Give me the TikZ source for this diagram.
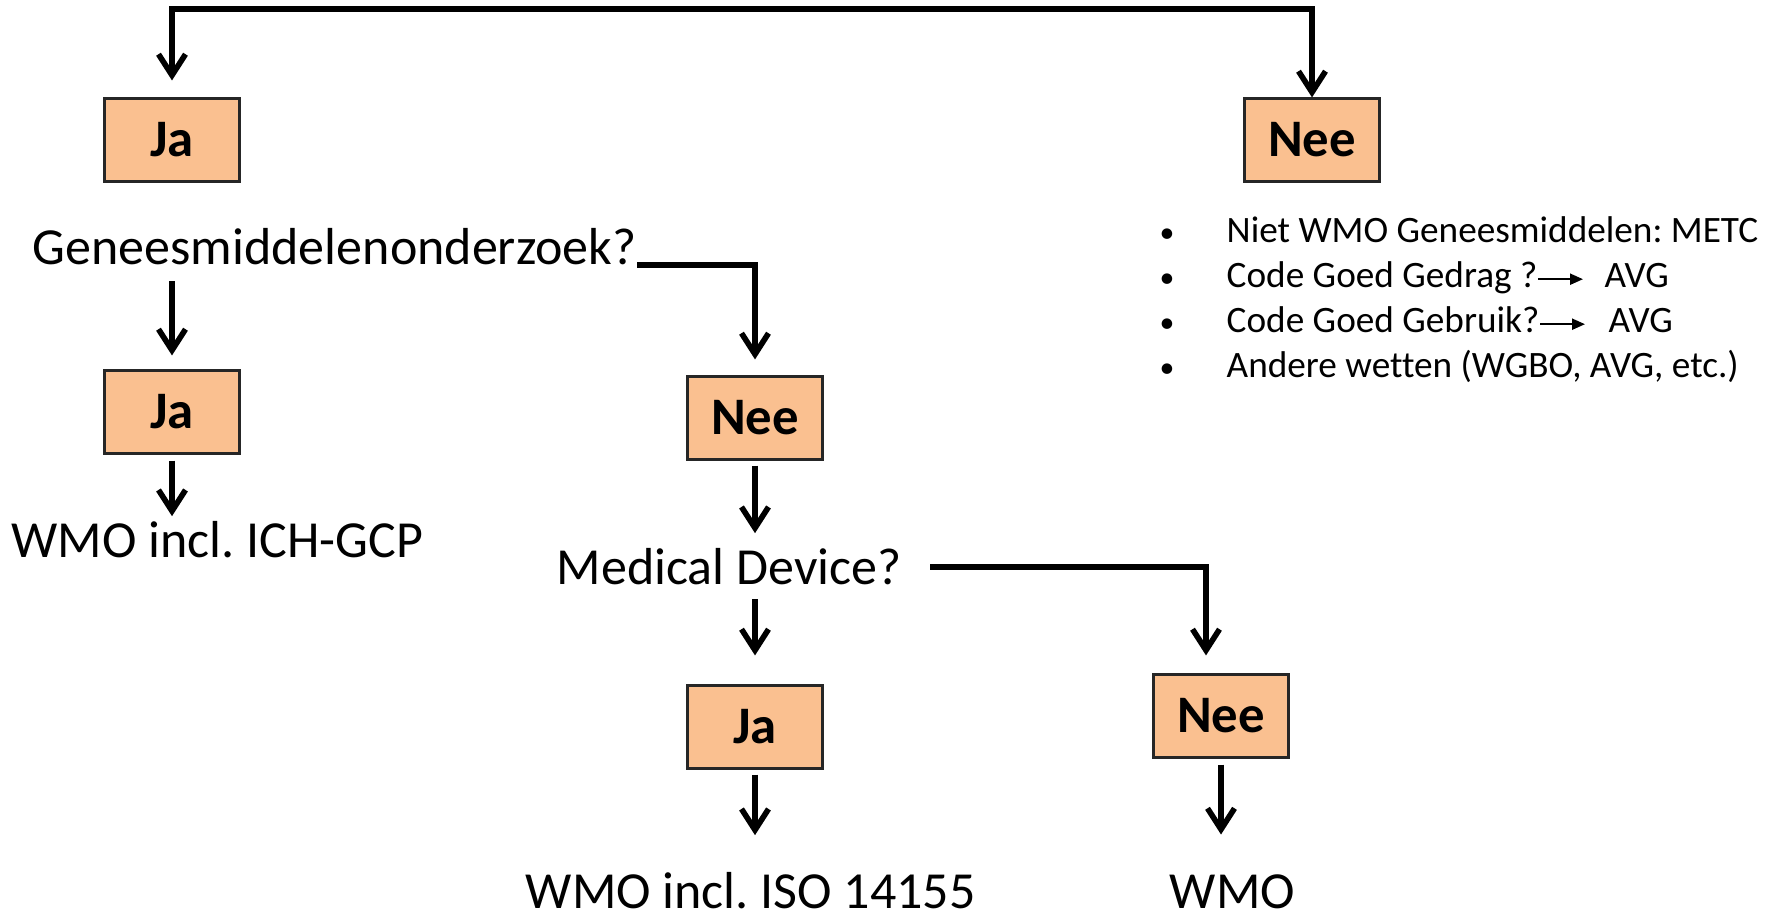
\documentclass[tikz,border=0pt]{standalone}
\usepackage{fontspec}
\setmainfont{Carlito}[Ligatures=NoCommon]
\usetikzlibrary{arrows.meta}
\definecolor{boxoranje}{RGB}{250,192,144}
\tikzset{
  keuze/.style={draw=black!85, line width=0.6pt, fill=boxoranje,
    minimum width=1.35cm, minimum height=0.83cm,
    font=\fontsize{15}{18}\selectfont\bfseries},
  vraag/.style={inner sep=0pt, font=\fontsize{14.8}{18}\selectfont},
  punt/.style={inner sep=0pt, text height=0.7em, text depth=0.2em,
    font=\fontsize{10.6}{13}\selectfont},
  pijl/.style={line width=1.6pt,
    -{Straight Barb[length=0.21cm,width=0.27cm,line width=1.6pt]}},
  kleinpijl/.style={line width=0.6pt, -{Triangle[length=0.13cm,width=0.11cm]}}
}
\newcommand{\bol}{\llap{\scalebox{0.8}{\textbullet}\hspace{1.4em}}}
\frenchspacing
\begin{document}
\begin{tikzpicture}
  \useasboundingbox (0,0) rectangle (17.79,9.19);

  % keuzes
  \node[keuze] (ja1)  at (1.72,7.79)  {Ja};
  \node[keuze] (nee1) at (13.12,7.79) {Nee};
  \node[keuze] (ja2)  at (1.72,5.07)  {Ja};
  \node[keuze] (nee2) at (7.55,5.01)  {Nee};
  \node[keuze] (ja3)  at (7.55,1.92)  {Ja};
  \node[keuze] (nee3) at (12.21,2.03) {Nee};

  % vragen en uitkomsten
  \node[vraag,anchor=base west] (gen)  at (0.32,6.54)  {Geneesmiddelenonderzoek?};
  \node[vraag,anchor=base west] (wmo1) at (0.11,3.61)  {WMO incl. ICH-GCP};
  \node[vraag,anchor=base west] (med)  at (5.56,3.34)  {Medical Device?};
  \node[vraag,anchor=base west] (wmo2) at (5.25,0.10)  {WMO incl. ISO 14155};
  \node[vraag,anchor=base west] (wmo3) at (11.69,0.10) {WMO};

  % lijst onder Nee
  \node[punt,anchor=base west] (p1) at (12.26,6.76) {\bol Niet WMO Geneesmiddelen: METC};
  \node[punt,anchor=base west] (p2) at (12.26,6.31) {\bol Code Goed Gedrag ?};
  \node[punt,anchor=base west] (avg2) at (16.04,6.31) {AVG};
  \node[punt,anchor=base west] (p3) at (12.26,5.86) {\bol Code Goed Gebruik?};
  \node[punt,anchor=base west] (avg3) at (16.08,5.86) {AVG};
  \node[punt,anchor=base west] (p4) at (12.26,5.41) {\bol Andere wetten (WGBO, AVG, etc.)};

  \coordinate (boven) at (7.45,9.10);

  % pijlen
  \draw[pijl,shorten >=0.17cm] (boven) -| (ja1.north);
  \draw[pijl] (boven) -| (nee1.north);
  \draw[pijl,shorten <=0.15cm,shorten >=0.14cm] (gen.south -| ja2.north) -- (ja2.north);
  \draw[pijl,shorten <=0.06cm,shorten >=0.05cm] (ja2.south) -- (ja2.south |- wmo1.north);
  \draw[pijl,shorten >=0.16cm] (gen.base east) -| (nee2.north);
  \draw[pijl,shorten <=0.05cm,shorten >=0.15cm] (nee2.south) -- (nee2.south |- med.north);
  \draw[pijl,shorten <=0.13cm,shorten >=0.29cm] (med.south -| ja3.north) -- (ja3.north);
  \draw[pijl,shorten >=0.18cm] ([xshift=0.28cm]med.east) -| ([xshift=-0.15cm]nee3.north);
  \draw[pijl,shorten <=0.05cm,shorten >=0.37cm] (ja3.south) -- (ja3.south |- wmo2.north);
  \draw[pijl,shorten <=0.06cm,shorten >=0.40cm] (nee3.south) -- (nee3.south |- wmo3.north);
  \draw[kleinpijl,shorten >=0.21cm] (p2.east) -- (avg2.west);
  \draw[kleinpijl,shorten >=0.23cm] (p3.east) -- (avg3.west);
\end{tikzpicture}
\end{document}
